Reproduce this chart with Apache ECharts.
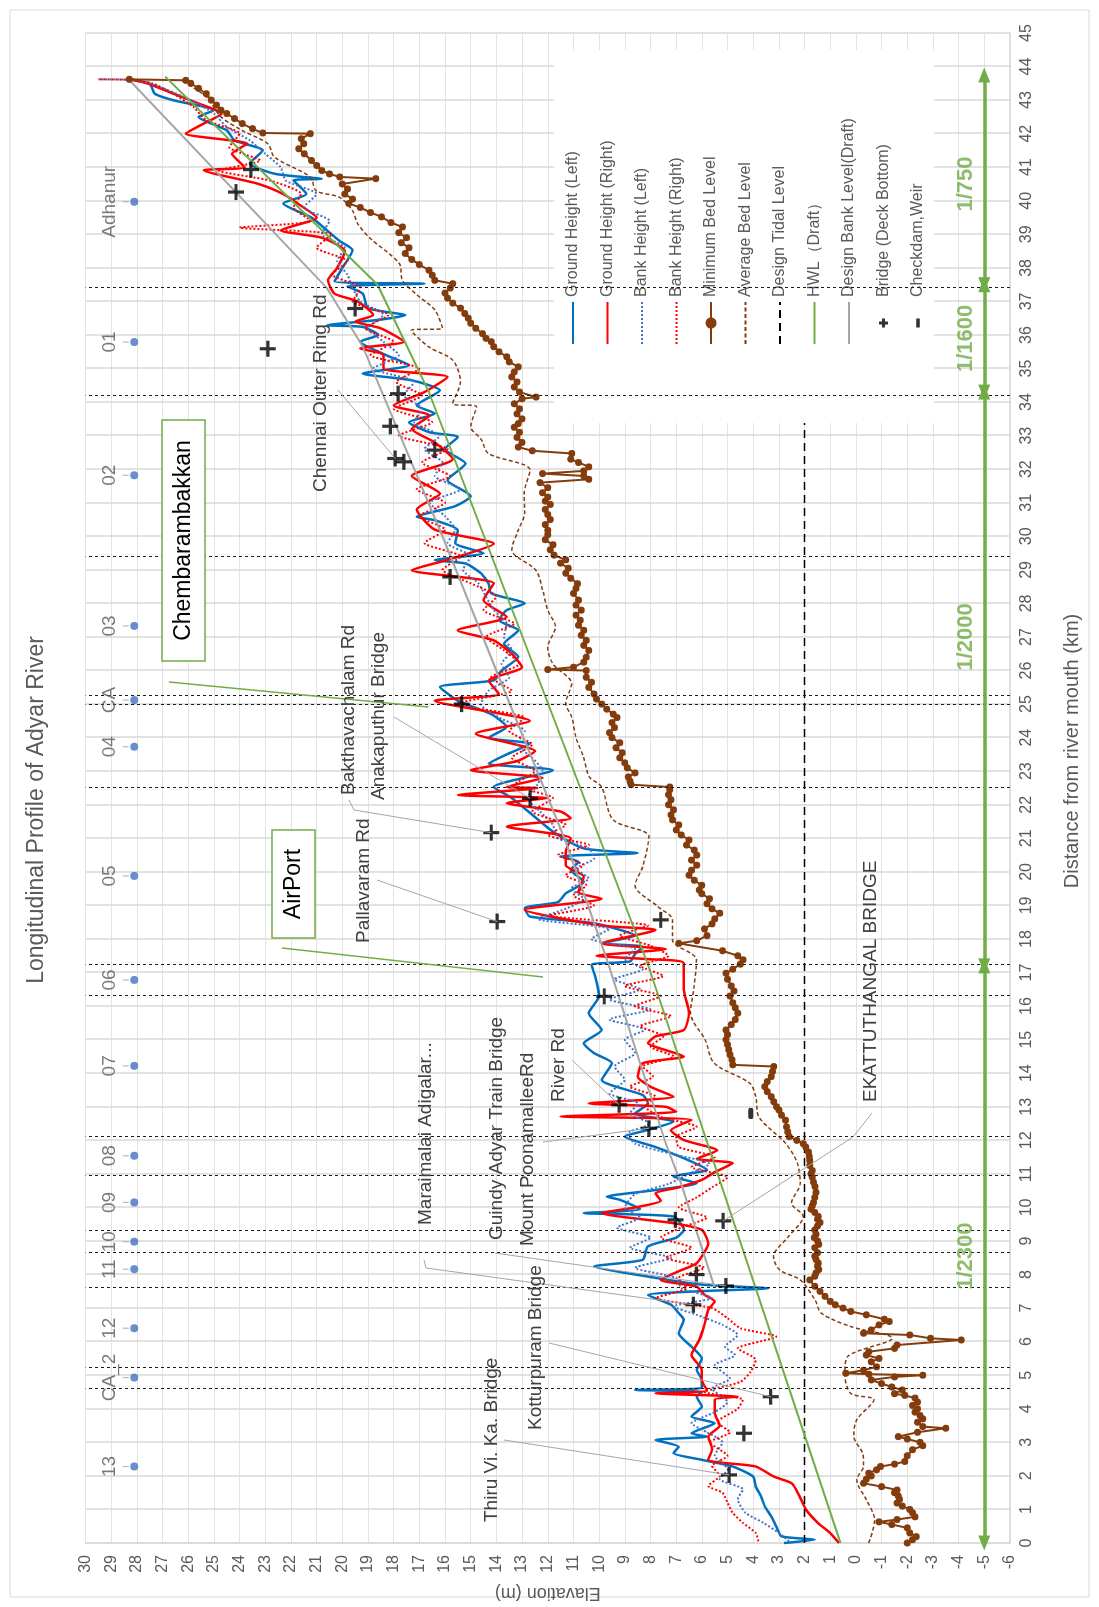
<!DOCTYPE html>
<html><head><meta charset="utf-8">
<script src="https://cdn.jsdelivr.net/npm/echarts@6/dist/echarts.min.js"></script>
<style>
html,body{margin:0;padding:0;background:#fff;overflow:hidden;width:1099px;height:1607px;}
#wrap{position:absolute;left:0;top:0;width:1607px;height:1099px;transform-origin:0 0;transform:translateY(1607px) rotate(-90deg);}
#chart{width:1607px;height:1099px;}
</style></head>
<body><div id="wrap"><div id="chart"></div></div>
<script>
// ---------------- DATA (distance km, elevation m) ----------------
const groundLeft = [[0.0,2.8],[0.1,1.6],[0.2,2.9],[0.49,3.1],[0.8,3.3],[1.09,3.55],[1.4,3.7],[1.68,3.9],[1.98,4.0],[2.28,4.8],[2.48,6.0],[2.68,7.1],[2.87,6.9],[3.07,7.8],[3.17,5.8],[3.27,6.4],[3.57,5.5],[3.77,6.4],[4.07,6.0],[4.36,6.2],[4.5,6.0],[4.56,8.6],[4.62,6.0],[4.86,6.0],[5.16,6.2],[5.5,6.0],[5.85,6.4],[6.25,6.9],[6.65,6.7],[6.85,6.9],[7.1,7.2],[7.39,8.1],[7.5,6.2],[7.59,3.4],[7.7,6.0],[7.94,8.1],[8.24,10.2],[8.44,8.3],[8.84,8.1],[9.1,7.0],[9.33,6.7],[9.73,7.1],[9.83,10.6],[9.95,8.4],[10.23,9.2],[10.32,9.7],[10.5,8.0],[10.72,6.2],[10.92,7.1],[11.12,5.8],[11.4,6.5],[11.8,7.8],[12.11,9.0],[12.31,8.1],[12.56,7.1],[12.8,8.6],[13.11,8.1],[13.35,8.3],[13.8,9.9],[14.3,9.5],[14.6,10.2],[14.89,10.6],[15.29,9.9],[15.79,10.4],[16.3,10.0],[16.88,10.15],[17.23,10.3],[17.33,8.8],[17.55,8.6],[17.77,8.3],[17.87,9.9],[18.1,8.6],[18.47,10.2],[18.67,12.7],[18.92,12.9],[19.1,11.6],[19.36,11.3],[19.7,10.6],[20.06,11.1],[20.3,10.8],[20.46,11.5],[20.56,8.5],[20.7,10.6],[21.2,11.8],[21.7,12.6],[22.2,13.4],[22.53,14.1],[23.03,11.8],[23.23,14.3],[23.5,13.6],[23.82,12.7],[24.0,14.3],[24.32,13.6],[24.7,14.2],[25.1,15.5],[25.51,16.2],[25.71,14.1],[26.0,13.8],[26.41,13.15],[26.8,13.7],[27.2,13.15],[27.5,13.9],[27.8,13.6],[28.0,12.9],[28.3,14.2],[28.59,14.3],[28.9,14.6],[29.19,15.2],[29.29,16.4],[29.5,14.5],[29.8,15.6],[30.18,15.5],[30.48,16.4],[30.58,17.1],[30.9,15.6],[31.2,15.0],[31.67,15.9],[32.17,15.2],[32.6,16.0],[32.96,15.5],[33.1,16.6],[33.4,17.4],[33.66,16.4],[33.9,17.1],[34.35,16.2],[34.65,17.3],[34.85,19.2],[35.1,17.4],[35.4,18.3],[35.8,19.3],[36.0,18.6],[36.24,19.2],[36.29,20.6],[36.45,18.6],[36.59,17.55],[36.8,19.0],[37.23,19.2],[37.45,19.8],[37.53,16.8],[37.6,20.3],[38.0,20.0],[38.53,19.6],[38.8,20.1],[39.12,20.6],[39.5,21.2],[39.92,22.3],[40.2,21.4],[40.61,21.9],[40.65,20.8],[40.8,22.6],[41.11,23.6],[41.5,23.1],[41.8,24.2],[42.1,24.5],[42.5,25.6],[42.7,25.0],[43.0,26.6],[43.19,27.3],[43.49,27.5],[43.61,28.3]];

const groundRight = [[0.0,0.66],[0.3,1.0],[0.59,1.47],[0.99,1.94],[1.4,2.2],[1.78,2.5],[1.98,3.2],[2.28,3.9],[2.4,5.3],[2.48,5.75],[2.8,5.6],[3.17,5.75],[3.5,5.3],[3.87,5.5],[4.27,5.5],[4.36,4.6],[4.46,7.8],[4.55,5.8],[4.86,6.0],[5.16,6.0],[5.6,6.4],[6.05,6.1],[6.5,5.9],[6.95,5.75],[7.2,5.5],[7.4,5.9],[7.64,6.2],[7.84,7.6],[8.1,6.9],[8.34,6.2],[8.93,5.75],[9.33,6.0],[9.53,7.1],[9.83,9.9],[10.0,8.6],[10.2,7.6],[10.42,7.8],[10.6,6.9],[10.82,6.0],[11.05,5.5],[11.32,4.8],[11.45,6.2],[11.7,5.4],[12.01,6.7],[12.3,7.2],[12.61,6.4],[12.71,11.5],[12.85,7.0],[13.0,7.4],[13.1,10.4],[13.3,7.1],[13.6,8.0],[13.9,8.5],[14.3,8.3],[14.5,6.7],[14.9,8.1],[15.1,7.8],[15.29,6.7],[15.79,6.5],[16.5,6.7],[17.28,6.7],[17.4,8.1],[17.5,10.1],[17.7,7.4],[17.87,9.9],[18.27,7.8],[18.4,9.9],[18.87,12.9],[19.2,9.9],[19.4,10.8],[19.86,10.6],[20.2,11.3],[20.6,11.3],[21.0,11.1],[21.35,13.6],[21.6,11.1],[21.8,11.5],[22.05,13.6],[22.2,12.0],[22.29,15.5],[22.5,12.4],[22.53,13.6],[22.8,12.2],[23.03,15.0],[23.3,13.2],[23.6,12.5],[24.12,14.8],[24.5,12.7],[25.1,16.4],[25.3,13.9],[25.7,14.3],[26.1,13.0],[26.5,13.4],[26.9,14.1],[27.2,15.5],[27.6,13.6],[28.1,14.5],[28.6,14.1],[28.99,17.3],[29.3,15.9],[29.78,14.1],[30.2,16.4],[30.8,17.1],[31.27,16.2],[31.8,17.3],[32.3,15.7],[32.8,16.4],[33.2,17.3],[33.6,16.6],[33.9,18.0],[34.3,16.8],[34.75,15.9],[35.0,18.4],[35.4,18.4],[35.6,19.3],[35.8,17.6],[36.2,18.5],[36.4,19.5],[36.6,18.8],[37.0,19.4],[37.23,20.3],[37.63,20.56],[38.0,20.2],[38.5,19.9],[38.9,20.8],[39.12,22.4],[39.5,21.0],[39.9,21.7],[40.2,22.3],[40.51,23.3],[40.91,25.4],[41.0,23.8],[41.4,24.3],[41.7,23.7],[42.0,26.1],[42.3,25.4],[42.6,24.7],[42.9,25.6],[43.2,26.6],[43.5,27.6],[43.65,28.4]];

const bankLeft = [[0.05,2.6],[0.3,3.0],[0.6,3.6],[0.9,4.3],[1.3,4.6],[1.6,4.4],[1.9,5.3],[2.2,5.0],[2.6,5.5],[3.0,5.2],[3.3,5.8],[3.57,6.4],[3.9,5.5],[4.2,5.0],[4.6,5.6],[4.9,4.9],[5.3,5.5],[5.6,4.7],[5.85,5.1],[6.2,4.6],[6.5,5.2],[6.8,6.2],[7.05,7.1],[7.3,5.6],[7.6,6.8],[7.9,7.0],[8.2,8.6],[8.5,7.2],[8.8,8.8],[9.1,8.0],[9.4,9.3],[9.7,8.4],[10.0,9.0],[10.4,8.6],[10.7,7.3],[11.0,6.5],[11.3,5.7],[11.6,7.2],[11.9,8.6],[12.2,8.9],[12.5,8.0],[12.8,8.8],[13.1,8.5],[13.4,9.6],[13.8,9.0],[14.2,9.4],[14.6,8.6],[15.0,9.0],[15.3,8.2],[15.6,9.6],[15.9,8.0],[16.2,9.6],[16.5,8.4],[16.8,9.4],[17.1,8.3],[17.4,9.0],[17.7,8.6],[18.0,10.3],[18.3,9.6],[18.6,12.4],[18.9,11.3],[19.2,10.6],[19.5,11.1],[19.8,10.4],[20.1,10.9],[20.4,10.2],[20.7,10.4],[21.0,11.6],[21.4,11.8],[21.8,12.3],[22.2,12.8],[22.6,12.4],[23.0,12.2],[23.4,12.6],[23.8,13.2],[24.2,12.9],[24.6,13.9],[25.0,14.6],[25.4,14.3],[25.8,13.5],[26.2,13.8],[26.6,13.4],[27.0,13.7],[27.4,13.6],[27.8,14.1],[28.2,14.4],[28.6,14.7],[29.0,15.3],[29.4,15.0],[29.8,15.9],[30.2,15.6],[30.6,16.0],[31.0,16.6],[31.4,15.4],[31.8,16.4],[32.2,16.1],[32.6,16.8],[33.0,16.2],[33.4,17.2],[33.8,16.9],[34.2,17.6],[34.6,17.2],[35.0,18.8],[35.4,17.8],[35.8,18.4],[36.2,19.0],[36.6,18.4],[37.0,19.3],[37.4,19.6],[37.8,19.8],[38.2,20.2],[38.6,19.9],[39.0,20.8],[39.4,20.5],[39.8,21.5],[40.2,21.0],[40.6,22.2],[41.0,22.4],[41.4,23.0],[41.8,23.6],[42.2,24.5],[42.6,25.0],[43.0,25.9],[43.3,26.8],[43.6,28.0],[43.62,29.5]];

const bankRight = [[0.05,3.8],[0.3,3.9],[0.6,4.4],[0.9,4.8],[1.2,5.0],[1.5,5.2],[1.7,5.75],[2.0,5.3],[2.3,5.6],[2.6,5.0],[3.0,5.7],[3.3,4.9],[3.6,5.4],[4.0,4.6],[4.27,4.4],[4.5,5.9],[4.8,4.5],[5.1,4.1],[5.46,3.9],[5.8,4.6],[6.15,3.1],[6.4,4.5],[6.7,5.0],[7.0,5.6],[7.3,7.8],[7.6,6.6],[7.9,6.9],[8.2,5.9],[8.5,7.4],[8.8,6.4],[9.1,7.6],[9.4,6.8],[9.7,5.8],[10.0,6.9],[10.3,6.2],[10.6,5.6],[10.9,5.0],[11.2,6.4],[11.5,5.5],[11.8,6.9],[12.1,7.0],[12.4,6.2],[12.7,7.6],[13.0,8.2],[13.3,7.8],[13.6,8.8],[13.9,7.9],[14.2,8.3],[14.5,7.1],[14.8,8.0],[15.1,7.5],[15.4,8.4],[15.7,7.2],[16.0,8.6],[16.3,7.6],[16.6,9.0],[16.9,7.5],[17.2,8.4],[17.5,7.3],[17.8,8.0],[18.1,9.2],[18.4,8.1],[18.7,11.9],[19.0,10.2],[19.3,11.0],[19.6,10.5],[19.9,11.3],[20.2,10.6],[20.5,11.6],[20.8,10.4],[21.1,12.0],[21.4,11.3],[21.8,12.6],[22.2,11.8],[22.6,13.3],[23.0,12.5],[23.4,13.4],[23.8,12.6],[24.2,13.5],[24.6,12.9],[25.0,15.6],[25.4,13.4],[25.8,14.2],[26.2,13.1],[26.6,13.7],[27.0,14.4],[27.4,13.3],[27.8,14.5],[28.2,14.0],[28.6,15.0],[29.0,16.1],[29.4,15.4],[29.8,16.8],[30.2,16.0],[30.6,17.0],[31.0,16.0],[31.4,17.1],[31.8,15.8],[32.2,16.9],[32.6,15.9],[33.0,17.8],[33.4,16.5],[33.8,18.0],[34.2,16.9],[34.6,17.9],[35.0,17.0],[35.4,18.9],[35.8,18.0],[36.2,19.1],[36.6,18.2],[37.0,19.6],[37.4,19.3],[37.8,20.4],[38.2,19.8],[38.6,21.0],[39.0,20.4],[39.2,24.0],[39.4,21.2],[39.8,21.9],[40.2,21.6],[40.6,22.8],[40.9,24.8],[41.2,23.2],[41.6,24.4],[42.0,24.0],[42.4,25.3],[42.8,25.8],[43.2,26.6],[43.5,27.4],[43.6,28.2],[43.62,29.5]];

const minBed = [[0.0,-2.0],[0.1,-2.2],[0.19,-2.35],[0.3,-2.1],[0.45,-2.0],[0.55,-1.4],[0.63,-0.9],[0.7,-1.6],[0.78,-2.3],[0.9,-2.2],[1.0,-2.1],[1.1,-1.8],[1.19,-1.6],[1.3,-1.7],[1.4,-1.65],[1.5,-1.5],[1.58,-1.6],[1.68,-1.0],[1.78,-0.3],[1.9,-0.4],[2.0,-0.6],[2.08,-0.5],[2.18,-0.8],[2.28,-0.96],[2.35,-1.5],[2.43,-1.9],[2.6,-2.0],[2.78,-2.2],[2.9,-2.6],[3.0,-2.5],[3.1,-2.0],[3.17,-1.65],[3.3,-2.4],[3.42,-3.5],[3.47,-2.6],[3.6,-2.4],[3.7,-2.6],[3.8,-2.5],[3.9,-2.3],[4.0,-2.4],[4.1,-2.2],[4.2,-2.4],[4.32,-2.3],[4.4,-1.9],[4.45,-1.5],[4.56,-1.8],[4.65,-1.4],[4.75,-1.0],[4.86,-0.6],[4.95,-1.5],[5.0,-2.6],[5.03,-0.5],[5.06,0.4],[5.15,-0.3],[5.25,-0.8],[5.4,-0.6],[5.5,-0.9],[5.6,-0.4],[5.7,-0.5],[5.8,-1.5],[5.9,-1.6],[6.05,-4.1],[6.1,-2.9],[6.2,-2.1],[6.25,-0.3],[6.35,-0.6],[6.5,-0.9],[6.6,-1.3],[6.67,-1.1],[6.8,-0.4],[6.9,0.2],[7.0,0.5],[7.1,0.8],[7.2,1.0],[7.35,1.2],[7.5,1.4],[7.65,1.6],[7.84,1.8],[7.95,1.6],[8.05,1.55],[8.15,1.45],[8.25,1.5],[8.34,1.47],[8.45,1.55],[8.55,1.6],[8.65,1.5],[8.8,1.6],[8.9,1.45],[9.0,1.5],[9.1,1.62],[9.2,1.55],[9.33,1.6],[9.45,1.5],[9.55,1.4],[9.65,1.5],[9.73,1.47],[9.85,1.6],[9.95,1.75],[10.05,1.7],[10.15,1.65],[10.3,1.6],[10.45,1.55],[10.62,1.59],[10.75,1.65],[10.9,1.7],[11.0,1.75],[11.1,1.7],[11.25,1.8],[11.4,1.8],[11.52,1.82],[11.65,1.85],[11.8,1.95],[11.9,2.05],[12.0,2.3],[12.11,2.6],[12.25,2.65],[12.4,2.7],[12.6,2.74],[12.75,2.9],[12.9,3.0],[13.0,3.09],[13.15,3.2],[13.3,3.3],[13.45,3.45],[13.6,3.55],[13.75,3.45],[13.9,3.3],[14.05,3.25],[14.2,3.2],[14.25,4.8],[14.4,4.83],[14.55,4.9],[14.7,4.95],[14.85,5.0],[15.0,5.06],[15.15,5.0],[15.29,5.06],[15.45,4.85],[15.6,4.7],[15.79,4.6],[15.95,4.7],[16.1,4.8],[16.3,4.9],[16.45,4.75],[16.6,4.85],[16.8,5.0],[16.98,5.06],[17.1,4.8],[17.25,4.5],[17.38,4.4],[17.5,4.6],[17.65,5.2],[17.87,6.9],[17.95,6.2],[18.1,5.8],[18.3,5.9],[18.45,5.6],[18.6,5.5],[18.77,5.3],[18.9,5.6],[19.05,5.8],[19.2,5.7],[19.35,6.0],[19.46,6.1],[19.6,6.0],[19.75,6.3],[19.9,6.5],[20.05,6.4],[20.2,6.2],[20.35,6.4],[20.5,6.2],[20.65,6.3],[20.8,6.6],[20.95,6.5],[21.1,6.8],[21.25,7.0],[21.4,6.9],[21.55,7.14],[21.7,7.2],[21.85,7.1],[22.0,7.3],[22.15,7.2],[22.3,7.3],[22.45,7.25],[22.53,7.25],[22.6,8.76],[22.7,8.8],[22.83,8.87],[22.95,8.6],[23.1,8.9],[23.25,9.0],[23.4,9.2],[23.55,9.1],[23.7,9.34],[23.85,9.2],[24.0,9.5],[24.15,9.6],[24.3,9.4],[24.45,9.5],[24.6,9.3],[24.7,9.45],[24.85,9.7],[25.0,9.9],[25.15,10.1],[25.3,10.2],[25.5,10.4],[25.65,10.3],[25.8,10.5],[26.0,10.5],[26.03,12.0],[26.1,11.0],[26.25,10.6],[26.4,10.5],[26.6,10.4],[26.75,10.6],[26.9,10.5],[27.05,10.7],[27.2,10.6],[27.35,10.8],[27.5,10.73],[27.65,10.9],[27.8,10.7],[27.95,10.9],[28.1,10.8],[28.3,11.0],[28.45,10.9],[28.59,10.84],[28.75,11.1],[28.9,11.3],[29.05,11.2],[29.2,11.5],[29.3,11.3],[29.44,11.76],[29.6,11.9],[29.75,11.8],[29.9,12.1],[30.05,12.0],[30.18,12.0],[30.35,12.1],[30.5,11.9],[30.65,12.0],[30.8,12.1],[30.95,11.9],[31.05,12.1],[31.17,12.0],[31.3,12.2],[31.45,12.0],[31.6,12.3],[31.7,10.4],[31.8,10.6],[31.87,12.2],[31.95,10.6],[32.07,10.4],[32.2,10.8],[32.3,11.1],[32.47,11.07],[32.55,12.6],[32.66,13.15],[32.8,13.0],[32.95,13.2],[33.1,13.1],[33.25,13.3],[33.36,13.15],[33.5,13.0],[33.65,13.2],[33.8,13.1],[33.95,13.3],[34.1,13.0],[34.15,12.46],[34.3,13.1],[34.45,13.3],[34.6,13.2],[34.75,13.4],[34.9,13.3],[35.05,13.15],[35.2,13.5],[35.35,13.6],[35.5,13.9],[35.65,14.1],[35.8,14.2],[35.9,14.4],[36.04,14.54],[36.2,14.8],[36.35,15.0],[36.5,15.1],[36.64,15.23],[36.8,15.4],[36.95,15.7],[37.1,15.9],[37.25,16.0],[37.4,15.8],[37.53,15.7],[37.63,16.4],[37.78,16.5],[37.93,16.62],[38.1,17.0],[38.25,17.3],[38.43,17.55],[38.6,17.4],[38.75,17.7],[38.9,17.5],[39.05,17.8],[39.22,17.66],[39.35,18.1],[39.52,18.47],[39.65,18.9],[39.8,19.3],[39.92,19.75],[40.05,19.6],[40.2,19.9],[40.35,19.8],[40.5,20.0],[40.66,18.7],[40.71,20.1],[40.8,20.5],[40.9,20.8],[41.05,21.0],[41.2,21.2],[41.4,21.48],[41.55,21.7],[41.7,21.5],[41.85,21.6],[42.0,21.25],[42.02,23.1],[42.15,23.5],[42.3,23.9],[42.45,24.2],[42.6,24.5],[42.7,24.72],[42.85,24.9],[43.0,25.1],[43.19,25.3],[43.35,25.6],[43.5,25.9],[43.59,26.1],[43.62,28.3]];

const avgBed = [[0.0,-0.5],[0.69,-0.73],[1.3,-0.4],[1.88,-0.03],[2.3,-0.3],[2.68,-0.26],[3.17,0.08],[3.67,-0.03],[4.27,-0.7],[4.46,0.2],[5.06,0.43],[5.56,0.32],[6.1,-1.42],[6.45,0.2],[6.85,1.35],[7.24,1.59],[7.84,2.17],[8.14,2.97],[8.54,3.21],[9.13,2.63],[9.73,2.05],[10.13,2.51],[10.72,2.17],[11.32,2.28],[11.91,2.74],[12.7,3.78],[13.3,3.9],[13.7,4.13],[14.3,5.52],[15.0,5.87],[15.79,6.44],[16.6,6.3],[17.38,6.21],[17.97,7.14],[18.57,7.14],[18.97,7.72],[19.6,8.6],[20.16,8.3],[21.05,8.06],[21.55,9.45],[22.54,9.91],[22.83,10.38],[23.43,10.61],[24.0,10.9],[24.62,11.07],[25.02,11.3],[25.61,11.07],[26.2,11.8],[26.7,12.0],[27.3,11.7],[27.8,12.0],[28.4,12.2],[28.99,12.46],[29.6,13.4],[30.18,13.15],[30.7,12.9],[31.27,12.92],[31.97,12.69],[32.47,14.31],[32.9,14.6],[33.26,15.0],[33.86,14.77],[33.96,15.7],[34.6,15.4],[35.25,15.7],[35.64,16.62],[36.14,17.32],[36.2,16.1],[36.74,16.39],[37.2,17.1],[37.63,17.66],[38.13,17.78],[38.9,18.94],[39.32,19.4],[39.7,19.6],[40.1,20.1],[40.3,21.02],[40.71,21.25],[41.3,22.64],[41.7,22.9],[42.1,23.91],[42.5,24.72],[43.1,25.3],[43.6,26.3]];

const tidalLevel = [[0,2.0],[44,2.0]];
const hwl = [[0,0.6],[17.2,8.08],[34.3,16.63],[37.5,18.63],[43.7,26.9]];
const designBank = [[7.6,5.5],[10.7,6.8],[11.9,7.4],[17.4,9.7],[20.9,11.3],[25.8,13.9],[30.0,16.1],[35.65,19.2],[37.4,20.6],[43.6,28.3]];

const bridges = [[2.03,4.94],[3.27,4.36],[4.36,3.32],[7.1,6.33],[7.66,5.06],[8.0,6.21],[9.6,5.17],[9.63,7.03],[12.36,8.06],[13.06,9.22],[16.29,9.8],[18.52,13.97],[18.57,7.6],[21.17,14.2],[22.19,12.69],[25.0,15.35],[28.79,15.8],[32.22,17.6],[32.32,17.94],[32.57,16.4],[33.28,18.13],[34.25,17.83],[35.59,22.9],[36.79,19.5],[40.26,24.14],[40.93,23.56]];
const checkdams = [[12.8,4.1]];

const stationNames = ['13','CA_2','12','11','10','09','08','07','06','05','04','CA','03','02','01','Adhanur'];
const stationPoints = [[2.28,28.1],[4.93,28.1],[6.4,28.1],[8.16,28.1],[8.98,28.1],[10.15,28.1],[11.54,28.1],[14.22,28.1],[16.78,28.1],[19.88,28.1],[23.73,28.1],[25.12,28.1],[27.33,28.1],[31.82,28.1],[35.79,28.1],[39.97,28.1]];

const sectionDist = [4.6,5.22,7.6,8.64,9.32,10.95,12.1,16.3,17.22,22.5,24.97,25.26,29.39,34.2,37.4];
const slopeSegments = [[0,17.2],[17.2,34.3],[34.3,37.5],[37.5,43.75]];
const slopeTexts = ['1/2300','1/2000','1/1600','1/750'];
const slopeArrowLevel = -5;

const noteTexts = ['Thiru Vi. Ka. Bridge','Kotturpuram Bridge','Maraimalai Adigalar...','Guindy Adyar Train Bridge','EKATTUTHANGAL BRIDGE','Mount PoonamalleeRd','River Rd','Pallavaram Rd','Bakthavachalam Rd','Anakaputhur Bridge','Chennai Outer Ring Rd'];
const noteBridge = [0,2,3,4,6,8,9,11,13,14,18];

// ---------------- CHART ----------------
const FONT = '"Liberation Sans", Arial, sans-serif';
const chart = echarts.init(document.getElementById('chart'), null, {width:1607, height:1099, renderer:'canvas'});

const plusPath = 'path://M6,0H9V6H15V9H9V15H6V9H0V6H6Z';
const hideSym = {color:'rgba(0,0,0,0)', borderColor:'rgba(0,0,0,0)', borderWidth:0};
const legendNames = ['Ground Height (Left)','Ground Height (Right)','Bank Height (Left)','Bank Height (Right)','Minimum Bed Level','Average Bed Level','Design Tidal Level','HWL（Draft）','Design Bank Level(Draft)'];

const option = {
  animation:false,
  backgroundColor:'#fff',
  textStyle:{fontFamily:FONT},
  grid:{left:64, right:33, top:85.5, bottom:89, containLabel:false, outerBoundsMode:'none'},
  xAxis:{type:'value', min:0, max:45, interval:1,
    name:'Distance from river mouth (km)', nameLocation:'middle', nameGap:52,
    nameTextStyle:{fontSize:20, color:'#595959', fontFamily:FONT, padding:[0,0,0,74]},
    axisLine:{onZero:false, lineStyle:{color:'#d9d9d9', width:1.5}},
    axisTick:{show:false},
    axisLabel:{fontSize:16, color:'#595959', margin:9, fontFamily:FONT},
    splitLine:{show:true, lineStyle:{color:'#d9d9d9', width:1.5}}},
  yAxis:{type:'value', min:-6, max:30, interval:1,
    name:'Elavation (m)', nameLocation:'middle', nameGap:40, nameRotate:90,
    nameTextStyle:{fontSize:18, color:'#595959', fontFamily:FONT},
    axisLine:{show:true, onZero:false, lineStyle:{color:'#d9d9d9', width:1.5}},
    axisTick:{show:false},
    axisLabel:{fontSize:16, color:'#595959', margin:12, fontFamily:FONT},
    splitLine:{show:true, lineStyle:{color:'#e3e3e3', width:1}}},
  legend:{orient:'vertical', left:1184, top:554, padding:[11,68,8,78],
    itemWidth:42, itemHeight:14, itemGap:18.5, backgroundColor:'#fff', selectedMode:false,
    textStyle:{fontSize:16, color:'#595959', fontFamily:FONT},
    data: legendNames.map(n => n === 'Minimum Bed Level' ? {name:n} : {name:n, itemStyle:hideSym}).concat([
      {name:'Bridge (Deck Bottom)', icon:'path://M0,0M42,14M19.5,2.5H22.5V5.5H25.5V8.5H22.5V11.5H19.5V8.5H16.5V5.5H19.5Z'},
      {name:'Checkdam,Weir', icon:'path://M0,0M42,14M16.5,5.2H25.5V8.8H16.5Z'}])},
  series:[
    {name:'Ground Height (Left)', type:'line', data:groundLeft, symbol:'none', smooth:0.2,
      lineStyle:{color:'#0070C0', width:2.5}, itemStyle:{color:'#0070C0'}},
    {name:'Ground Height (Right)', type:'line', data:groundRight, symbol:'none', smooth:0.2,
      lineStyle:{color:'#FF0000', width:2.5}, itemStyle:{color:'#FF0000'}},
    {name:'Bank Height (Left)', type:'line', data:bankLeft, symbol:'none', smooth:0.2,
      lineStyle:{color:'#4472C4', width:2, type:[2,2]}, itemStyle:{color:'#4472C4'}},
    {name:'Bank Height (Right)', type:'line', data:bankRight, symbol:'none', smooth:0.2,
      lineStyle:{color:'#FF0000', width:2, type:[2,2]}, itemStyle:{color:'#FF0000'}},
    {name:'Minimum Bed Level', type:'line', data:minBed, symbol:'circle', symbolSize:7, showSymbol:true,
      lineStyle:{color:'#843C0C', width:2}, itemStyle:{color:'#843C0C'}},
    {name:'Average Bed Level', type:'line', data:avgBed, symbol:'none', smooth:0.3,
      lineStyle:{color:'#843C0C', width:1.5, type:[4,2.5]}, itemStyle:{color:'#843C0C'}},
    {name:'Design Tidal Level', type:'line', data:tidalLevel, symbol:'none',
      lineStyle:{color:'#000', width:1.5, type:[8,5]}, itemStyle:{color:'#000'},
      markLine:{silent:true, symbol:['none','none'], label:{show:false},
        lineStyle:{color:'#1a1a1a', width:1, type:[3,3]},
        data:sectionDist.map(d=>({xAxis:d}))}},
    {name:'HWL（Draft）', type:'line', data:hwl, symbol:'none',
      lineStyle:{color:'#70AD47', width:2}, itemStyle:{color:'#70AD47'},
      markLine:{silent:true, symbol:['triangle','triangle'], symbolSize:[12,15], label:{show:false},
        lineStyle:{color:'#70AD47', width:3.5, type:'solid'},
        data:slopeSegments.map(s=>[{coord:[s[0],slopeArrowLevel]},{coord:[s[1],slopeArrowLevel]}])}},
    {name:'Design Bank Level(Draft)', type:'line', data:designBank, symbol:'none',
      lineStyle:{color:'#A5A5A5', width:2}, itemStyle:{color:'#A5A5A5'}},
    {name:'Bridge (Deck Bottom)', type:'scatter', data:bridges, symbol:plusPath, symbolSize:16,
      itemStyle:{color:'#000'}, z:5},
    {name:'Checkdam,Weir', type:'scatter', data:checkdams, symbol:'roundRect', symbolSize:[11,5],
      itemStyle:{color:'#000'}, z:5},
    {name:'stations', type:'scatter', data:stationPoints, symbol:'circle', symbolSize:8,
      itemStyle:{color:'#4472C4'}, z:5,
      label:{show:true, position:'top', distance:11, fontSize:19, color:'#595959', fontFamily:FONT,
        formatter:p=>stationNames[p.dataIndex]}},
    {name:'stationTicks', type:'scatter', data:stationPoints, symbol:'rect', symbolSize:[1.2,6],
      symbolOffset:[0,-8.5], itemStyle:{color:'#a6a6a6'}, silent:true, z:4},
    {name:'slopeLabels', type:'scatter', symbolSize:0, silent:true, z:6,
      data:[[8.55,slopeArrowLevel],[27.0,slopeArrowLevel],[35.9,slopeArrowLevel],[40.5,slopeArrowLevel]],
      label:{show:true, position:'top', distance:7, fontSize:22, fontWeight:'bold', color:'#70AD47', fontFamily:FONT,
        formatter:p=>slopeTexts[p.dataIndex]}}
  ]
};
chart.setOption(option);

// ---------------- ANNOTATIONS ----------------
const toPx = p => chart.convertToPixel({gridIndex:0}, p);
const noteLayout = [
  {x:85,  y:492,   lead:[[167,504]]},
  {x:177, y:536,   lead:[[264,549]]},
  {x:382, y:425.5, lead:[[347,424],[339,426]]},
  {x:367, y:497,   lead:[[354,495]]},
  {x:505, y:871,   lead:[[494,872],[470,853]]},
  {x:361, y:528,   lead:[[465,543]]},
  {x:505, y:559,   lead:[[547,572]]},
  {x:664, y:364,   lead:[[727,377]]},
  {x:812, y:348.6, lead:[[807,349],[797,354]]},
  {x:807, y:379,   lead:[[890,394]]},
  {x:1115,y:321,   lead:[[1217,338]]}
];
const graphics = [
  {type:'rect', shape:{x:10, y:10, width:1587, height:1079}, style:{fill:null, stroke:'#d9d9d9', lineWidth:1}, z:0, silent:true},
  {type:'text', x:797, y:37, z:10, style:{text:'Longitudinal Profile of Adyar River', font:'23px '+FONT, fill:'#595959', align:'center', verticalAlign:'middle'}},
  {type:'line', shape:{x1:925, y1:169, x2:900, y2:428.5}, style:{stroke:'#70AD47', lineWidth:1.5}, z:10},
  {type:'line', shape:{x1:659, y1:282, x2:630, y2:543}, style:{stroke:'#70AD47', lineWidth:1.5}, z:10},
  {type:'rect', shape:{x:946, y:162, width:241, height:43}, style:{fill:'#fff', stroke:'#70AD47', lineWidth:1.5}, z:10},
  {type:'text', x:1066.5, y:184, z:11, style:{text:'Chembarambakkan', font:'23px '+FONT, fill:'#000', align:'center', verticalAlign:'middle'}},
  {type:'rect', shape:{x:669, y:272, width:108, height:43}, style:{fill:'#fff', stroke:'#70AD47', lineWidth:1.5}, z:10},
  {type:'text', x:723, y:294, z:11, style:{text:'AirPort', font:'23px '+FONT, fill:'#000', align:'center', verticalAlign:'middle'}}
];
noteLayout.forEach((n,i)=>{
  const end = toPx(bridges[noteBridge[i]]);
  graphics.push({type:'polyline', z:9, silent:true, shape:{points:n.lead.concat([end])}, style:{stroke:'#a6a6a6', lineWidth:1, fill:null}});
  graphics.push({type:'text', x:n.x, y:n.y, z:10, style:{text:noteTexts[i], font:'19px '+FONT, fill:'#404040', align:'left', verticalAlign:'middle'}});
});
chart.setOption({graphic:graphics});
</script>
</body></html>
